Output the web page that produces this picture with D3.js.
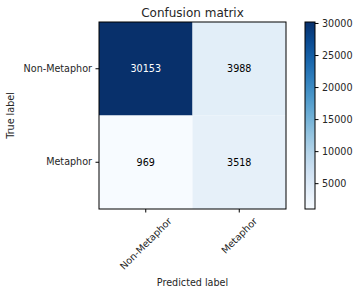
<!DOCTYPE html>
<html>
<head>
<meta charset="utf-8">
<script src="https://cdn.jsdelivr.net/npm/d3@7"></script>
<style>
  body { margin: 0; background: #fff; }
  text { font-family: "DejaVu Sans", sans-serif; }
</style>
</head>
<body>
<svg id="chart" width="359" height="294"></svg>
<script>
// confusion matrix data
const classes = ['Non-Metaphor', 'Metaphor'];
const matrix = [
    [30153, 3988],
    [969, 3518]
];
const cbTicks = [5000, 10000, 15000, 20000, 25000, 30000];

const svg = d3.select('#chart');
const plotLeft = 99, plotTop = 22, size = 187;
const fs = '9.6px';

const x = d3.scaleBand().domain(classes).range([plotLeft, plotLeft + size]);
const y = d3.scaleBand().domain(classes).range([plotTop, plotTop + size]);

const flat = matrix.flat();
const vmin = d3.min(flat), vmax = d3.max(flat);
const color = d3.scaleSequential(d3.interpolateBlues).domain([vmin, vmax]);

const cells = [];
matrix.forEach((row, i) => row.forEach((v, j) => cells.push({ r: classes[i], c: classes[j], v })));

svg.selectAll('rect.cell').data(cells).enter().append('rect')
    .attr('class', 'cell')
    .attr('x', d => x(d.c))
    .attr('y', d => y(d.r))
    .attr('width', x.bandwidth())
    .attr('height', y.bandwidth())
    .attr('fill', d => color(d.v));

svg.selectAll('text.val').data(cells).enter().append('text')
    .attr('class', 'val')
    .attr('x', d => x(d.c) + x.bandwidth() / 2)
    .attr('y', d => y(d.r) + y.bandwidth() / 2)
    .attr('text-anchor', 'middle')
    .attr('dy', '0.35em')
    .attr('fill', d => d.v > vmax / 2 ? '#ffffff' : '#000000')
    .style('font-size', fs)
    .text(d => d.v);

// frame
svg.append('rect')
    .attr('x', plotLeft).attr('y', plotTop).attr('width', size).attr('height', size)
    .attr('fill', 'none').attr('stroke', '#000').attr('stroke-width', 1);

// axes
const yAxis = svg.append('g').attr('transform', `translate(${plotLeft},0)`)
    .call(d3.axisLeft(y).tickSize(3.5).tickPadding(3.5));
const xAxis = svg.append('g').attr('transform', `translate(0,${plotTop + size})`)
    .call(d3.axisBottom(x).tickSize(3.5).tickPadding(3.5));
[xAxis, yAxis].forEach(a => {
    a.select('.domain').remove();
    a.selectAll('text').style('font-size', fs).style('font-family', 'DejaVu Sans').attr('fill', '#262626');
    a.selectAll('line').attr('stroke', '#000');
});
// rotated x labels, bounding box centered under the tick (matplotlib ha='center')
xAxis.selectAll('text').each(function () {
    const t = d3.select(this);
    const w = this.getComputedTextLength();
    const h = 9.6;
    const half = (w + h) * Math.SQRT1_2 / 2;
    t.attr('text-anchor', 'middle').attr('x', 0).attr('y', 0).attr('dy', '0.35em')
        .attr('transform', `translate(0,${7 + half}) rotate(-45)`);
});

// titles
svg.append('text').attr('x', plotLeft + size / 2).attr('y', 17)
    .attr('text-anchor', 'middle').attr('fill', '#262626').style('font-size', '12px').text('Confusion matrix');
svg.append('text').attr('x', plotLeft + size / 2).attr('y', 286)
    .attr('text-anchor', 'middle').attr('fill', '#262626').style('font-size', fs).text('Predicted label');
svg.append('text').attr('transform', `translate(14,${plotTop + size / 2}) rotate(-90)`)
    .attr('text-anchor', 'middle').attr('fill', '#262626').style('font-size', fs).text('True label');

// colorbar
const cbX = 305, cbW = 10;
const cbScale = d3.scaleLinear().domain([vmin, vmax]).range([plotTop + size, plotTop]);
const grad = svg.append('defs').append('linearGradient').attr('id', 'cb')
    .attr('x1', 0).attr('y1', 1).attr('x2', 0).attr('y2', 0);
d3.range(0, 1.0001, 0.1).forEach(t => {
    grad.append('stop').attr('offset', t).attr('stop-color', d3.interpolateBlues(t));
});
svg.append('rect').attr('x', cbX).attr('y', plotTop).attr('width', cbW).attr('height', size)
    .attr('fill', 'url(#cb)').attr('stroke', '#000').attr('stroke-width', 1);
const cbAxis = svg.append('g').attr('transform', `translate(${cbX + cbW},0)`)
    .call(d3.axisRight(cbScale).tickValues(cbTicks).tickSize(3.5).tickPadding(3.5).tickFormat(d3.format('d')));
cbAxis.select('.domain').remove();
cbAxis.selectAll('text').style('font-size', fs).style('font-family', 'DejaVu Sans').attr('fill', '#262626');
cbAxis.selectAll('line').attr('stroke', '#000');
</script>
</body>
</html>
